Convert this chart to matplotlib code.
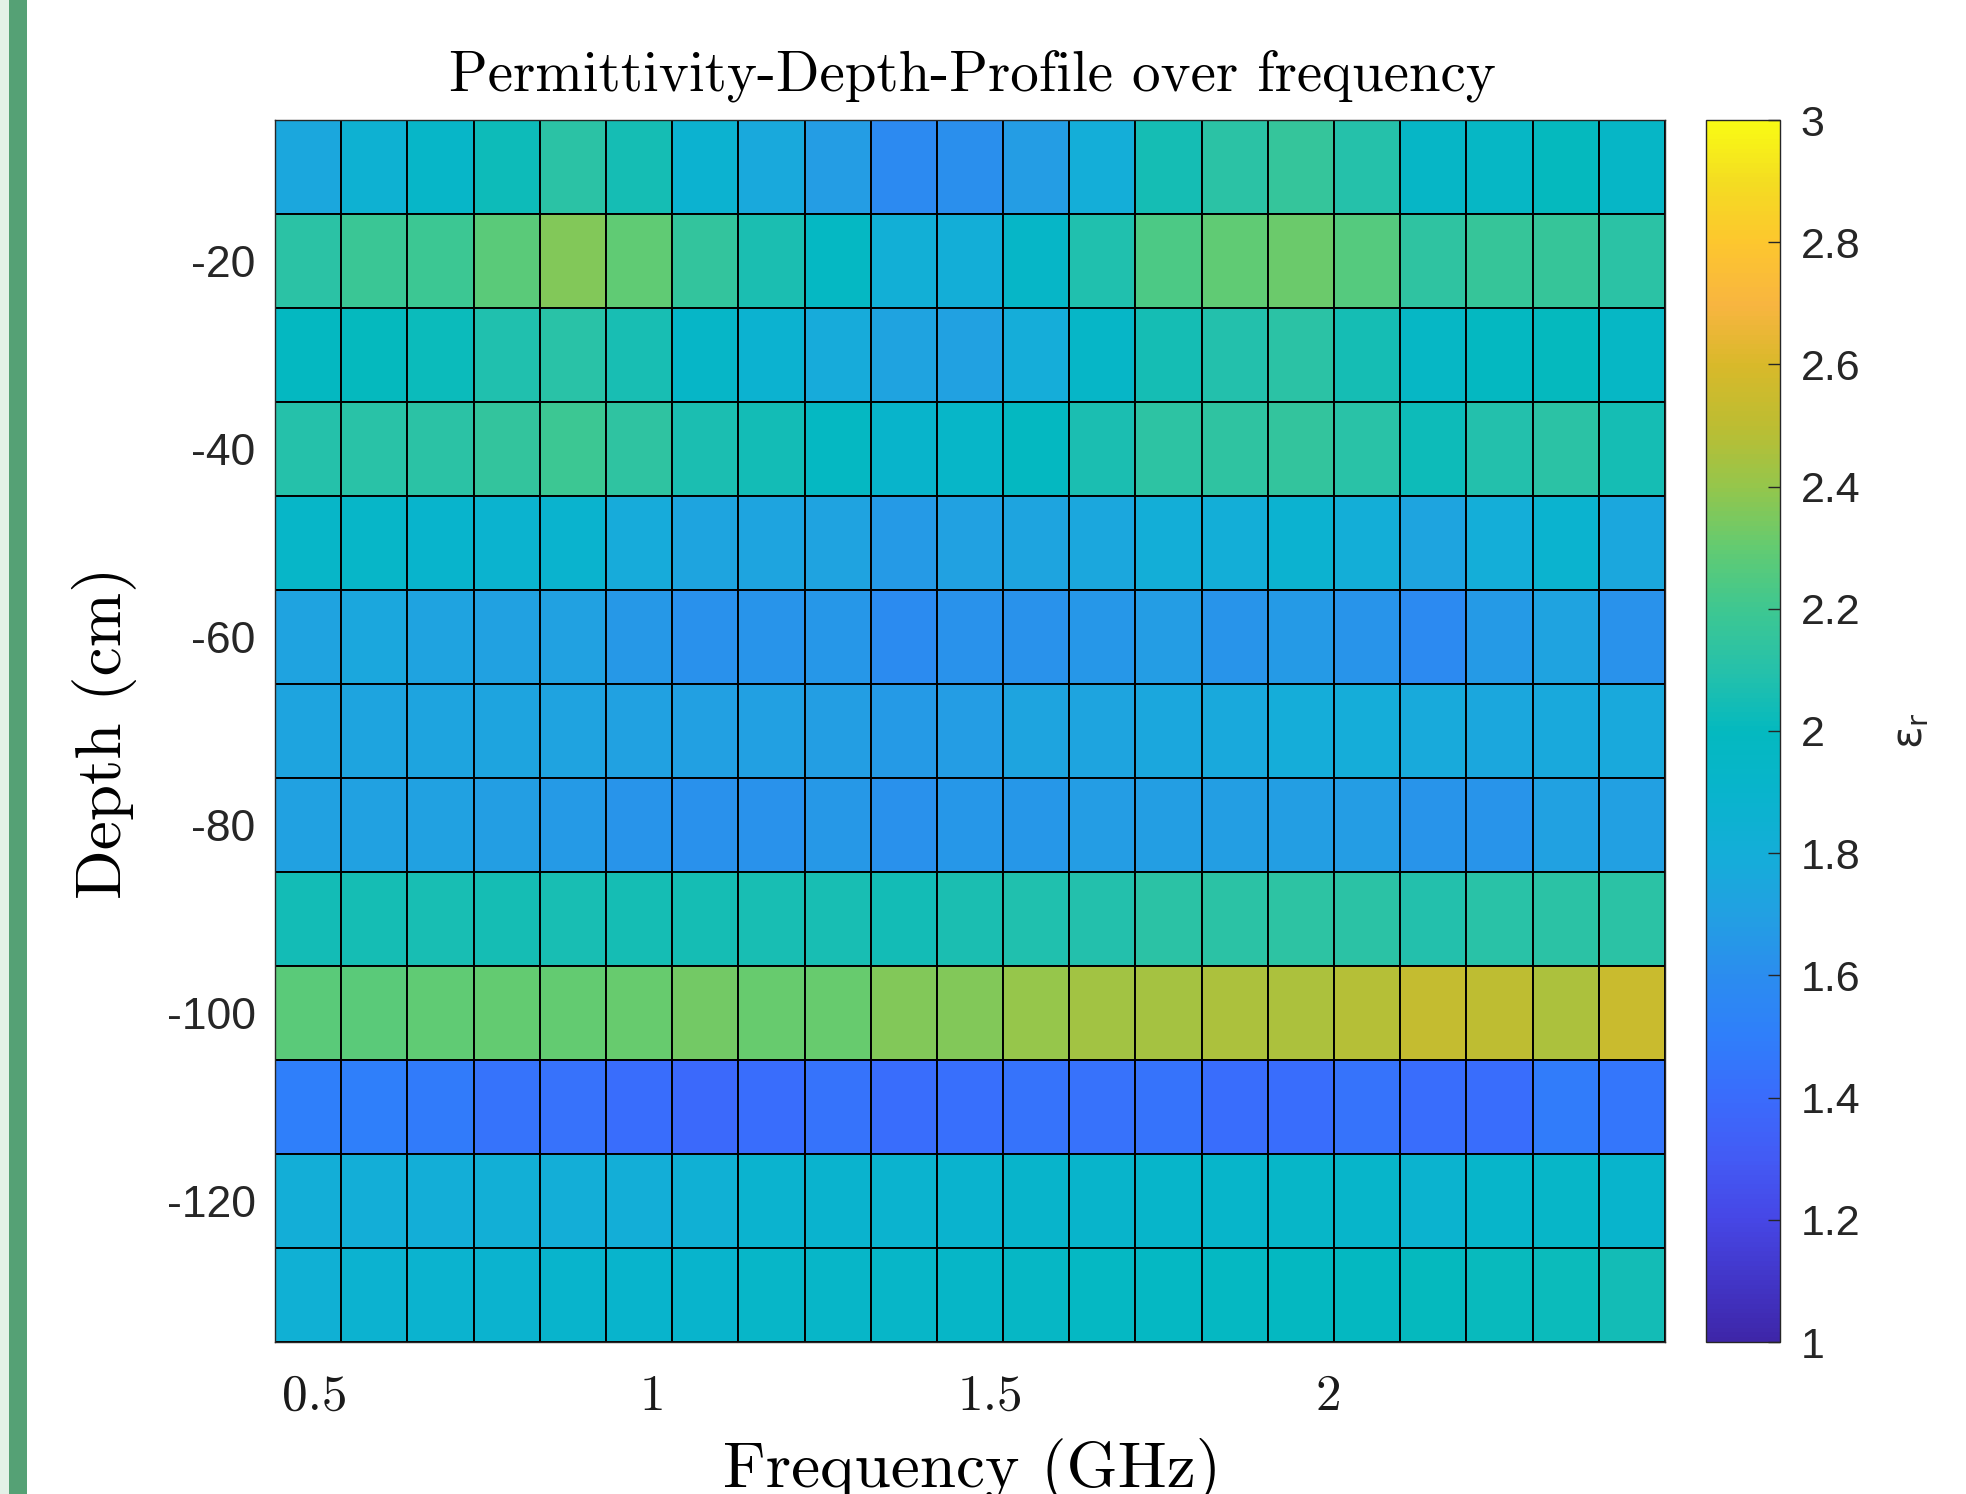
import numpy as np
import matplotlib
matplotlib.use("Agg")
import matplotlib.pyplot as plt
from matplotlib.colors import LinearSegmentedColormap, Normalize
from matplotlib.patches import Rectangle

# ---------------- data ----------------
freq_ghz = [0.490, 0.588, 0.686, 0.784, 0.882, 0.980, 1.078, 1.176, 1.274, 1.372, 1.470,
            1.568, 1.666, 1.764, 1.862, 1.960, 2.058, 2.156, 2.254, 2.352, 2.450]
depth_cm = [-10, -20, -30, -40, -50, -60, -70, -80, -90, -100, -110, -120, -130]

eps_r = [
    [1.75, 1.85, 1.93, 2.03, 2.12, 2.05, 1.86, 1.76, 1.68, 1.58, 1.61, 1.68, 1.80, 2.05, 2.12, 2.16, 2.10, 1.95, 1.96, 2.00, 1.95],
    [2.12, 2.18, 2.19, 2.28, 2.36, 2.29, 2.15, 2.07, 1.97, 1.82, 1.81, 1.94, 2.08, 2.24, 2.29, 2.32, 2.26, 2.14, 2.17, 2.17, 2.12],
    [1.99, 2.00, 2.02, 2.08, 2.11, 2.06, 1.94, 1.87, 1.78, 1.72, 1.71, 1.79, 1.94, 2.05, 2.09, 2.12, 2.05, 1.96, 1.99, 2.00, 1.96],
    [2.10, 2.11, 2.12, 2.15, 2.19, 2.14, 2.07, 2.04, 1.98, 1.91, 1.93, 1.99, 2.07, 2.13, 2.14, 2.15, 2.11, 2.03, 2.09, 2.12, 2.05],
    [1.93, 1.93, 1.90, 1.88, 1.89, 1.78, 1.73, 1.73, 1.72, 1.67, 1.71, 1.73, 1.75, 1.81, 1.81, 1.86, 1.81, 1.73, 1.80, 1.88, 1.75],
    [1.72, 1.75, 1.72, 1.71, 1.71, 1.66, 1.62, 1.64, 1.65, 1.59, 1.63, 1.63, 1.65, 1.68, 1.64, 1.67, 1.64, 1.58, 1.67, 1.72, 1.63],
    [1.73, 1.73, 1.73, 1.73, 1.72, 1.71, 1.70, 1.70, 1.69, 1.67, 1.68, 1.73, 1.73, 1.75, 1.76, 1.79, 1.79, 1.77, 1.75, 1.76, 1.76],
    [1.71, 1.71, 1.71, 1.69, 1.67, 1.64, 1.62, 1.63, 1.66, 1.62, 1.65, 1.65, 1.68, 1.69, 1.69, 1.69, 1.68, 1.64, 1.64, 1.71, 1.70],
    [2.04, 2.05, 2.06, 2.05, 2.06, 2.05, 2.05, 2.06, 2.06, 2.04, 2.07, 2.08, 2.09, 2.12, 2.12, 2.13, 2.12, 2.09, 2.11, 2.12, 2.12],
    [2.28, 2.28, 2.29, 2.30, 2.30, 2.31, 2.33, 2.31, 2.31, 2.36, 2.36, 2.40, 2.43, 2.44, 2.46, 2.46, 2.48, 2.53, 2.50, 2.46, 2.54],
    [1.50, 1.50, 1.48, 1.44, 1.43, 1.41, 1.39, 1.41, 1.44, 1.41, 1.42, 1.44, 1.43, 1.44, 1.41, 1.41, 1.44, 1.41, 1.41, 1.49, 1.46],
    [1.81, 1.81, 1.81, 1.82, 1.81, 1.81, 1.83, 1.88, 1.89, 1.88, 1.89, 1.91, 1.91, 1.92, 1.92, 1.93, 1.92, 1.88, 1.92, 1.93, 1.90],
    [1.83, 1.86, 1.88, 1.88, 1.90, 1.90, 1.90, 1.93, 1.93, 1.93, 1.94, 1.96, 1.97, 1.97, 1.98, 1.99, 1.99, 2.00, 2.01, 2.02, 2.04],
]

x_ticks = [0.5, 1, 1.5, 2]
x_tick_labels = ["0.5", "1", "1.5", "2"]
y_ticks = [-120, -100, -80, -60, -40, -20]
y_tick_labels = ["-120", "-100", "-80", "-60", "-40", "-20"]
cb_ticks = [1, 1.2, 1.4, 1.6, 1.8, 2, 2.2, 2.4, 2.6, 2.8, 3]
cb_tick_labels = ["1", "1.2", "1.4", "1.6", "1.8", "2", "2.2", "2.4", "2.6", "2.8", "3"]
clim = (1.0, 3.0)

title_text = "Permittivity-Depth-Profile over frequency"
xlabel_text = "Frequency (GHz)"
ylabel_text = "Depth (cm)"
cbar_label_text = r"$\mathregular{ε_r}$"

# ---------------- colormap (parula-like) ----------------
parula_anchors = [
    (0.00, "#3e26a8"), (0.05, "#4236c8"), (0.10, "#4647e6"), (0.15, "#435bf5"),
    (0.20, "#3a6cfc"), (0.25, "#2f7ffa"), (0.30, "#2b8def"), (0.35, "#22a0e2"),
    (0.40, "#14aed8"), (0.45, "#08b4cc"), (0.50, "#04b9bf"), (0.55, "#26c1aa"),
    (0.60, "#3ec791"), (0.65, "#62cb72"), (0.70, "#94c64c"), (0.75, "#bcbd32"),
    (0.80, "#d8b92a"), (0.85, "#f8b540"), (0.90, "#fdc62f"), (0.95, "#f4dc22"),
    (1.00, "#f9fb14"),
]
cmap = LinearSegmentedColormap.from_list("parula_like", parula_anchors, N=256)

# ---------------- figure ----------------
W, H = 1966, 1494
fig = plt.figure(figsize=(W / 100, H / 100), dpi=100)
fig.patch.set_facecolor("white")

# left border strip of the screenshot
fig.patches.append(Rectangle((0, 0), 9 / W, 1, transform=fig.transFigure,
                             facecolor="#e3f1e7", edgecolor="none", zorder=0))
fig.patches.append(Rectangle((9 / W, 0), 18 / W, 1, transform=fig.transFigure,
                             facecolor="#55a175", edgecolor="none", zorder=0))

ax = fig.add_axes([275 / W, 1 - 1342 / H, 1390 / W, 1222 / H])

fc = np.array(freq_ghz)
dc = np.array(depth_cm, dtype=float)
fx = np.concatenate([[fc[0] - (fc[1] - fc[0]) / 2], (fc[:-1] + fc[1:]) / 2, [fc[-1] + (fc[-1] - fc[-2]) / 2]])
dy = np.concatenate([[dc[0] - (dc[1] - dc[0]) / 2], (dc[:-1] + dc[1:]) / 2, [dc[-1] + (dc[-1] - dc[-2]) / 2]])

norm = Normalize(vmin=clim[0], vmax=clim[1])
mesh = ax.pcolormesh(fx, dy, np.array(eps_r), cmap=cmap, norm=norm,
                     edgecolors="black", linewidth=1.4, antialiased=True)
ax.set_xlim(fx[0], fx[-1])
ax.set_ylim(dy[-1], dy[0])

txtcol = "#262626"
ax.set_xticks(x_ticks, x_tick_labels, fontfamily="cmr10", fontsize=37, color="#1a1a1a")
ax.set_yticks(y_ticks, y_tick_labels, fontfamily="Liberation Sans", fontsize=32, color=txtcol)
ax.tick_params(axis="x", length=0, pad=23)
ax.tick_params(axis="y", length=0, pad=14)
for s in ax.spines.values():
    s.set_color(txtcol)
    s.set_linewidth(1.0)

# title and axis labels (LaTeX-like font)
fig.text(972 / W, 1 - 90 / H, title_text, fontfamily="cmr10", fontsize=41,
         ha="center", va="baseline", color="black")
fig.text(972 / W, 1 - 1487 / H, xlabel_text, fontfamily="cmr10", fontsize=47,
         ha="center", va="baseline", color="black")
fig.text(121 / W, 1 - 733 / H, ylabel_text, fontfamily="cmr10", fontsize=47,
         ha="center", va="baseline", rotation=90, rotation_mode="anchor", color="black")

# colorbar
cax = fig.add_axes([1706 / W, 1 - 1342 / H, 74 / W, 1222 / H])
cb = fig.colorbar(mesh, cax=cax, orientation="vertical")
cb.set_ticks(cb_ticks, labels=cb_tick_labels)
cax.tick_params(axis="y", direction="in", length=8.6, width=1.0, pad=15,
                labelsize=31, colors=txtcol)
for lab in cax.get_yticklabels():
    lab.set_fontfamily("Liberation Sans")
cb.outline.set_edgecolor(txtcol)
cb.outline.set_linewidth(1.0)
fig.text(1922 / W, 1 - 731 / H, cbar_label_text, fontsize=30, ha="center", va="baseline",
         rotation=90, rotation_mode="anchor", color=txtcol)

fig.savefig("out.png", dpi=100)
